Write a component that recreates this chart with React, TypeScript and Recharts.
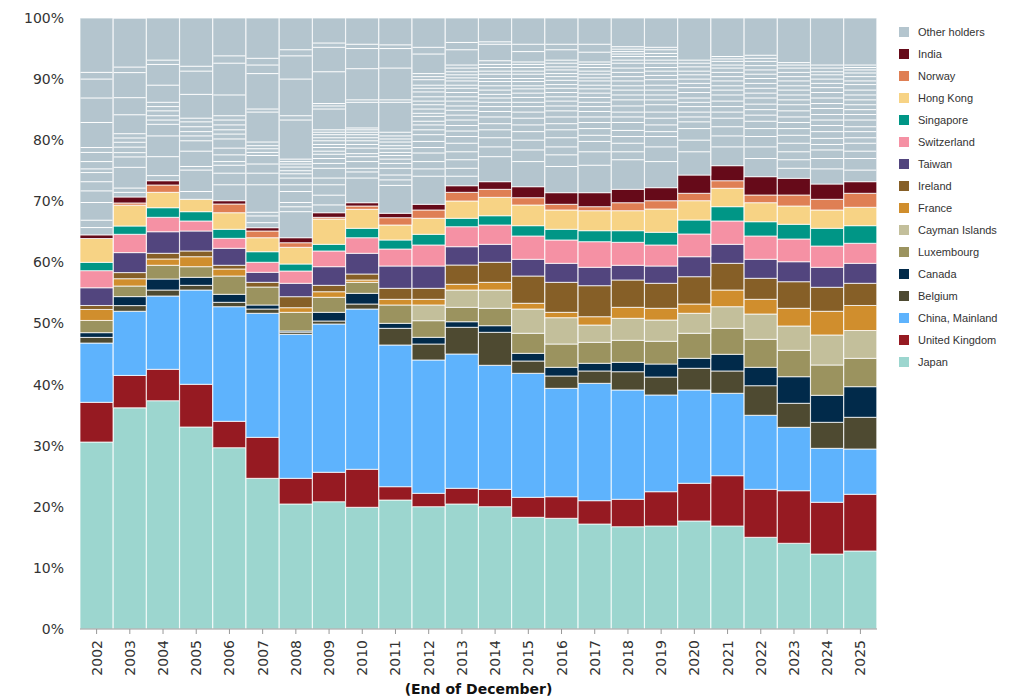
import React from "react"
import { BarChart, Bar, XAxis, YAxis, Label } from "recharts"

// Share of foreign holdings of U.S. Treasury securities by country, in percent
const years = [
  "2002", "2003", "2004", "2005", "2006", "2007", "2008", "2009", "2010", "2011", "2012", "2013",
  "2014", "2015", "2016", "2017", "2018", "2019", "2020", "2021", "2022", "2023", "2024", "2025",
]

const japan = [30.6, 36.2, 37.36, 33.06, 29.67, 24.66, 20.46, 20.83, 19.92, 21.11, 20.02, 20.46, 20.02, 18.28, 18.12, 17.18, 16.74, 16.86, 17.68, 16.86, 15.01, 14.03, 12.27, 12.77]
const unitedKingdom = [6.5, 5.3, 5.14, 6.99, 4.32, 6.71, 4.2, 4.82, 6.22, 2.18, 2.19, 2.57, 2.84, 3.27, 3.53, 3.82, 4.49, 5.61, 6.17, 8.23, 7.85, 8.6, 8.47, 9.28]
const china = [9.7, 10.5, 12.0, 15.43, 18.76, 20.3, 23.57, 24.27, 26.23, 23.19, 21.82, 21.98, 20.3, 20.3, 17.74, 19.21, 17.89, 15.83, 15.27, 13.49, 12.12, 10.38, 8.83, 7.41]
const belgium = [0.93, 0.93, 0.98, 0.77, 0.72, 0.7, 0.35, 0.49, 0.82, 2.73, 2.61, 4.37, 5.4, 2.01, 2.02, 2.02, 2.99, 2.94, 3.55, 3.65, 4.84, 3.93, 4.26, 5.19]
const canada = [0.77, 1.47, 1.8, 1.31, 1.31, 0.66, 0.2, 1.42, 1.75, 0.82, 1.1, 0.91, 1.08, 1.26, 1.42, 1.26, 1.54, 2.13, 1.63, 2.73, 3.01, 4.35, 4.42, 5.01]
const luxembourg = [2.0, 1.73, 2.25, 1.74, 2.99, 2.94, 3.05, 2.46, 1.8, 3.0, 2.72, 2.36, 2.85, 3.28, 3.81, 3.43, 3.6, 3.72, 4.1, 4.25, 4.58, 4.32, 4.96, 4.64]
const cayman = [0, 0, 0, 0, 0, 0, 0, 0, 0, 0, 2.57, 2.83, 2.99, 3.97, 4.31, 2.83, 3.6, 3.48, 3.27, 3.54, 4.14, 3.98, 4.91, 4.55]
const france = [1.8, 1.2, 1.03, 1.63, 1.15, 0, 0.76, 0.91, 0.38, 0.93, 0.93, 0.94, 1.26, 0.94, 0.88, 1.36, 1.8, 1.92, 1.52, 2.73, 2.41, 2.9, 3.88, 4.1]
const ireland = [0.65, 1.0, 0.93, 0.94, 0.61, 0.77, 1.8, 1.05, 0.98, 1.8, 1.8, 3.15, 3.28, 4.46, 4.91, 5.08, 4.47, 4.09, 4.47, 4.37, 3.44, 4.35, 3.93, 3.63]
const taiwan = [2.9, 3.27, 3.53, 3.27, 2.78, 1.64, 2.19, 3.05, 3.39, 3.65, 3.65, 3.0, 2.94, 2.74, 3.11, 3.01, 2.41, 2.83, 3.27, 3.11, 3.11, 3.27, 3.27, 3.27]
const switzerland = [2.8, 3.0, 2.36, 1.64, 1.63, 1.64, 2.01, 2.57, 2.55, 2.78, 3.44, 3.27, 3.16, 3.81, 3.82, 4.19, 3.76, 3.44, 3.72, 3.82, 3.81, 3.72, 3.48, 3.28]
const singapore = [1.36, 1.36, 1.57, 1.52, 1.48, 1.73, 1.15, 1.09, 1.54, 1.48, 1.75, 1.38, 1.52, 1.69, 1.75, 1.8, 1.9, 2.08, 2.29, 2.34, 2.34, 2.41, 2.9, 2.88]
const hongKong = [3.9, 3.4, 2.52, 2.03, 2.71, 2.29, 2.73, 4.14, 3.11, 2.45, 2.62, 2.83, 3.01, 3.38, 3.16, 3.27, 3.27, 3.81, 3.16, 3.01, 3.11, 2.99, 3.0, 3.01]
const norway = [0, 0.37, 1.2, 0, 1.43, 1.1, 0.75, 0.28, 0.54, 1.2, 1.36, 1.42, 1.31, 1.2, 0.93, 0.66, 1.31, 1.36, 1.21, 1.24, 1.26, 1.8, 1.75, 2.29]
const india = [0.6, 0.98, 0.7, 0, 0.54, 0.54, 0.82, 0.75, 0.54, 0.72, 0.93, 1.08, 1.25, 1.8, 1.9, 2.29, 2.19, 2.13, 2.99, 2.46, 3.0, 2.73, 2.5, 1.9]
const otherHolders = [35.49, 29.25, 26.63, 29.67, 29.9, 34.32, 35.96, 31.87, 30.23, 31.96, 30.49, 27.45, 26.79, 27.61, 28.59, 28.59, 28.04, 27.77, 25.7, 24.17, 25.97, 26.24, 27.17, 26.79]

// cumulative levels (%) where the individual "other" holders split
const otherSplits = [
  [91.1, 90.0, 86.9, 82.9, 78.8, 78.0, 76.5, 75.3, 74.7, 73.2, 71.7, 69.8, 66.9, 65.7],
  [92.0, 91.1, 87.0, 84.2, 81.1, 80.4, 79.7, 78.9, 78.0, 77.3, 75.6, 72.2, 71.5],
  [93.1, 92.4, 89.0, 86.2, 85.5, 84.8, 84.0, 83.3, 82.6, 80.7, 77.3, 74.2],
  [92.1, 91.3, 87.5, 83.6, 83.0, 82.2, 81.4, 80.7, 79.9, 78.2, 75.7, 75.1, 71.6],
  [93.8, 92.6, 87.4, 84.0, 83.3, 82.5, 81.7, 81.0, 80.2, 78.7, 77.6, 76.5, 75.9, 74.6, 72.7],
  [93.4, 92.3, 90.9, 85.1, 84.6, 79.7, 79.1, 78.6, 78.0, 77.5, 76.1, 74.6, 72.7, 68.2, 67.6, 66.5],
  [94.8, 93.8, 90.0, 84.0, 83.3, 76.9, 76.5, 76.1, 75.6, 75.0, 74.5, 73.8, 72.7, 71.6, 69.8, 69.1, 68.3],
  [95.9, 95.2, 91.2, 86.0, 85.6, 85.1, 81.7, 81.3, 80.9, 80.4, 79.9, 79.3, 78.8, 78.2, 77.7, 77.0, 76.2, 75.4, 73.8, 72.7, 71.0, 69.4],
  [95.7, 95.0, 91.7, 86.6, 86.2, 82.0, 81.7, 81.3, 80.9, 80.4, 79.9, 79.3, 78.7, 77.8, 77.3, 76.5, 75.4, 74.8, 73.8],
  [95.6, 95.0, 91.8, 86.6, 86.2, 81.3, 80.7, 80.2, 79.7, 79.1, 78.6, 78.0, 77.5, 76.9, 76.2, 75.4, 74.3, 73.5, 72.6],
  [95.2, 94.1, 90.9, 90.4, 89.9, 89.0, 88.5, 87.9, 87.1, 86.4, 85.8, 85.1, 84.4, 83.9, 83.1, 82.5, 81.7, 80.9, 79.8, 78.8, 77.9, 76.5, 75.3, 74.1],
  [96.0, 94.8, 92.3, 91.8, 91.2, 90.7, 90.2, 89.7, 89.0, 88.5, 87.8, 87.1, 86.4, 85.6, 84.9, 84.1, 83.3, 82.4, 81.5, 80.6, 79.5, 78.1, 76.8, 75.4, 74.1],
  [96.1, 95.7, 93.0, 92.4, 91.9, 91.3, 90.8, 90.1, 89.6, 88.9, 88.2, 87.5, 86.9, 86.2, 85.5, 84.7, 83.8, 82.7, 81.7, 80.4, 78.9, 77.3],
  [95.7, 94.5, 92.8, 92.4, 91.9, 91.3, 90.8, 90.1, 89.6, 88.9, 88.4, 87.7, 87.0, 86.2, 85.5, 84.6, 83.6, 82.5, 81.4, 80.0, 78.4, 76.5],
  [95.7, 94.8, 93.1, 92.6, 92.0, 91.5, 90.9, 90.4, 89.8, 89.1, 88.5, 87.8, 87.1, 86.4, 85.6, 84.8, 83.8, 82.7, 81.7, 80.4, 78.9, 77.6, 75.7],
  [95.7, 94.4, 92.8, 92.4, 91.9, 91.3, 90.8, 90.2, 89.7, 89.0, 88.4, 87.7, 87.0, 86.2, 85.5, 84.7, 83.8, 82.9, 81.9, 80.8, 79.8, 78.1, 75.9],
  [95.3, 94.9, 94.5, 94.1, 93.7, 93.1, 92.6, 91.8, 91.1, 90.4, 89.7, 88.9, 88.2, 87.4, 86.6, 85.6, 84.6, 83.8, 82.9, 81.6, 80.6, 79.5, 78.1, 76.8],
  [95.2, 94.8, 94.2, 93.7, 93.1, 92.6, 91.9, 91.3, 90.6, 89.9, 89.0, 88.2, 87.4, 86.6, 85.8, 84.6, 83.6, 82.5, 81.4, 80.6, 78.9, 76.5],
  [93.1, 92.6, 92.0, 91.3, 90.7, 90.0, 89.3, 88.6, 87.8, 86.9, 86.2, 85.5, 84.6, 83.8, 83.0, 81.9, 80.0, 78.1],
  [93.7, 93.3, 92.9, 92.3, 91.8, 91.1, 90.4, 89.7, 88.9, 88.2, 87.4, 86.4, 85.5, 84.6, 83.6, 82.2, 80.7, 78.9],
  [93.9, 93.4, 92.9, 92.2, 91.5, 90.8, 90.1, 89.3, 88.5, 87.7, 86.9, 85.9, 85.0, 84.1, 83.1, 81.9, 80.6, 78.9, 77.0],
  [92.7, 92.3, 91.8, 91.1, 90.4, 89.7, 88.9, 88.2, 87.4, 86.6, 85.8, 84.8, 83.8, 82.9, 81.9, 80.8, 79.5, 78.1, 76.8, 75.4],
  [92.3, 91.8, 91.2, 90.7, 90.0, 89.3, 88.6, 87.8, 86.9, 86.0, 85.2, 84.2, 83.3, 82.4, 81.4, 80.3, 79.3, 78.4, 77.0, 75.3],
  [92.3, 91.9, 91.5, 91.0, 90.4, 89.7, 89.1, 88.2, 87.4, 86.6, 85.8, 85.0, 84.2, 83.3, 82.2, 81.4, 80.4, 79.5, 78.2, 77.0, 75.1],
]

const yTicks = [0, 10, 20, 30, 40, 50, 60, 70, 80, 90, 100]

// bottom to top
const series = [
  { key: "japan", name: "Japan", color: "#9cd6cf", values: japan },
  { key: "uk", name: "United Kingdom", color: "#961a22", values: unitedKingdom },
  { key: "china", name: "China, Mainland", color: "#5eb3fd", values: china },
  { key: "belgium", name: "Belgium", color: "#4e4a31", values: belgium },
  { key: "canada", name: "Canada", color: "#012a4a", values: canada },
  { key: "luxembourg", name: "Luxembourg", color: "#9b935f", values: luxembourg },
  { key: "cayman", name: "Cayman Islands", color: "#c3bf9b", values: cayman },
  { key: "france", name: "France", color: "#d08e2d", values: france },
  { key: "ireland", name: "Ireland", color: "#865f27", values: ireland },
  { key: "taiwan", name: "Taiwan", color: "#52457e", values: taiwan },
  { key: "switzerland", name: "Switzerland", color: "#f591a4", values: switzerland },
  { key: "singapore", name: "Singapore", color: "#009686", values: singapore },
  { key: "hongKong", name: "Hong Kong", color: "#f7d385", values: hongKong },
  { key: "norway", name: "Norway", color: "#df7f54", values: norway },
  { key: "india", name: "India", color: "#660a19", values: india },
  { key: "other", name: "Other holders", color: "#b4c5ce", values: otherHolders },
]

const data = years.map((year, i) => {
  const row: Record<string, any> = { year, otherSplits: otherSplits[i] }
  series.forEach((s) => {
    row[s.key] = s.values[i]
  })
  return row
})

const axisFont = { fontFamily: "'DejaVu Sans', Verdana, sans-serif", fontSize: 14, fill: "#333" }
const SEG_STROKE = "rgba(255,255,255,0.75)"

function OtherShape(props: any) {
  const { x, y, width, height, fill, payload } = props
  if (!height || height <= 0) return null
  const share = payload.other
  return (
    <g>
      <rect x={x} y={y} width={width} height={height} fill={fill} stroke={SEG_STROKE} strokeWidth={1} />
      {payload.otherSplits.map((level: number, j: number) => {
        const ly = y + ((100 - level) / share) * height
        return <line key={j} x1={x + 0.5} x2={x + width - 0.5} y1={ly} y2={ly} stroke="#ffffff" strokeWidth={1} />
      })}
    </g>
  )
}

function YearTick(props: any) {
  const { x, y, payload } = props
  return (
    <g transform={`translate(${x},${y + 4})`}>
      <text x={0} y={0} dy={5} transform="rotate(-90)" textAnchor="end" {...axisFont}>
        {payload.value}
      </text>
    </g>
  )
}

export default function App() {
  const legendItems = [...series].reverse()
  return (
    <div style={{ position: "relative", width: 1007, height: 690 }}>
      <BarChart
        width={875}
        height={690}
        data={data}
        barCategoryGap={0}
        margin={{ top: 10, right: 6, left: 0, bottom: 4 }}
      >
        <XAxis
          dataKey="year"
          interval={0}
          height={65}
          tick={<YearTick />}
          tickSize={5}
          tickMargin={2}
          axisLine={{ stroke: "#999" }}
          tickLine={{ stroke: "#999" }}
        >
          <Label
            value="(End of December)"
            position="insideBottom"
            offset={0}
            style={{ fontFamily: "'DejaVu Sans', Verdana, sans-serif", fontSize: 14, fontWeight: "bold", fill: "#111" }}
          />
        </XAxis>
        <YAxis
          width={72}
          domain={[0, 100]}
          ticks={yTicks}
          allowDataOverflow
          axisLine={false}
          tickLine={false}
          tickMargin={10}
          tickFormatter={(v) => `${v}%`}
          tick={axisFont}
        />
        {series.map((s) => (
          <Bar
            key={s.key}
            dataKey={s.key}
            name={s.name}
            stackId="a"
            fill={s.color}
            stroke={SEG_STROKE}
            strokeWidth={1}
            isAnimationActive={false}
            shape={s.key === "other" ? <OtherShape /> : undefined}
          />
        ))}
      </BarChart>
      <div style={{ position: "absolute", left: 891, top: 13 }}>
        {legendItems.map((s) => (
          <div key={s.key} style={{ display: "flex", alignItems: "center", height: 22 }}>
            <span style={{ display: "inline-block", width: 10, height: 10, background: s.color, marginRight: 9 }} />
            <span style={{ fontFamily: "'Liberation Sans', Arial, sans-serif", fontSize: 11, color: "#333" }}>
              {s.name}
            </span>
          </div>
        ))}
      </div>
    </div>
  )
}
